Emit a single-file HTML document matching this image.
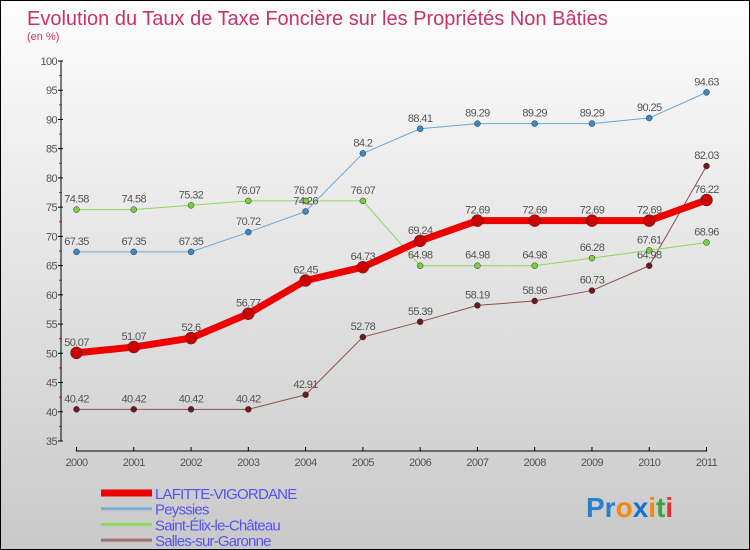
<!DOCTYPE html>
<html><head><meta charset="utf-8"><style>
body{margin:0;}
#c{width:748px;height:548px;border:1px solid #000;background:linear-gradient(#fdfdfd,#c9c9c9);position:relative;overflow:hidden;font-family:"Liberation Sans","DejaVu Sans",sans-serif;}
svg{position:absolute;left:0;top:0}
</style></head><body>
<div id="c">
<svg id="s" width="748" height="548">
<text x="26" y="24" font-size="20" fill="#c8336a">Evolution du Taux de Taxe Foncière sur les Propriétés Non Bâties</text>
<text x="26" y="39" font-size="11" fill="#c8336a">(en %)</text>
<text x="585" y="516" font-size="28" font-weight="bold"><tspan fill="#2a7fd0">Pr</tspan><tspan fill="#f08a10">o</tspan><tspan fill="#1a6fc8">x</tspan><tspan fill="#f08a10">i</tspan><tspan fill="#3aa63a">t</tspan><tspan fill="#e03030">i</tspan></text>
</svg>
</div>
<script>
const years=["2000","2001","2002","2003","2004","2005","2006","2007","2008","2009","2010","2011"];
const yTicks=[35,40,45,50,55,60,65,70,75,80,85,90,95,100];
const seriesNames=["LAFITTE-VIGORDANE","Peyssies","Saint-Élix-le-Château","Salles-sur-Garonne"];
const lafitte=[50.07,51.07,52.6,56.77,62.45,64.73,69.24,72.69,72.69,72.69,72.69,76.22];
const peyssies=[67.35,67.35,67.35,70.72,74.26,84.2,88.41,89.29,89.29,89.29,90.25,94.63];
const saintElix=[74.58,74.58,75.32,76.07,76.07,76.07,64.98,64.98,64.98,66.28,67.61,68.96];
const salles=[40.42,40.42,40.42,40.42,42.91,52.78,55.39,58.19,58.96,60.73,64.98,82.03];
const svg=document.getElementById('s');const NS='http://www.w3.org/2000/svg';
const xS=i=>75.5+i*(630/11);const yS=v=>440-(v-35)*(380/65);
function mk(t,a,p){const e=document.createElementNS(NS,t);for(const k in a)e.setAttribute(k,a[k]);(p||svg).appendChild(e);return e;}
const fmt=v=>String(v);
let ax=mk('line',{x1:60,y1:60,x2:60,y2:440,stroke:'#000'});

ax=mk('line',{x1:75,y1:450,x2:706,y2:450,stroke:'#000'});

yTicks.forEach(v=>{const y=yS(v);mk('line',{x1:57,y1:y,x2:62,y2:y,stroke:'#000'});
if(v<100)mk('line',{x1:58,y1:yS(v+2.5),x2:61,y2:yS(v+2.5),stroke:'#e00'});
const t=mk('text',{x:56,y:y+4,'font-size':11,fill:'#555','text-anchor':'end','letter-spacing':'-0.6'});t.textContent=v;
});
years.forEach((yr,i)=>{const x=xS(i);mk('line',{x1:x,y1:446,x2:x,y2:450,stroke:'#000'});
const t=mk('text',{x:x,y:465,'font-size':11,fill:'#555','text-anchor':'middle','letter-spacing':'-0.6'});t.textContent=yr;
});
function series(data,color,w,r,dot,name){const g=mk('g',{});

mk('polyline',{points:data.map((v,i)=>xS(i)+','+yS(v)).join(' '),fill:'none',stroke:color,'stroke-width':w},g);
data.forEach((v,i)=>{const c=mk('circle',{cx:xS(i),cy:yS(v),r:r,fill:dot,stroke:'#333','stroke-width':0.5},g);

const t=mk('text',{x:xS(i),y:yS(v)-7,'font-size':11,fill:'#555','text-anchor':'middle','letter-spacing':'-0.6'},g);t.textContent=fmt(v);
});}
series(salles,'#8b5050',1,3,'#6b1a1a','series-salles');
series(saintElix,'#8fd85a',1,3,'#7acc40','series-saint-elix');
series(peyssies,'#6aa8d8',1,3,'#3a88c8','series-peyssies');
series(lafitte,'#ee0000',7,6,'#cc0000','series-lafitte');
const lc=['#ee0000','#7aaed8','#8fd85a','#a07070'];const lw=[7,3,3,3];
seriesNames.forEach((n,i)=>{const y=492+i*15.7;const g=mk('g',{});

mk('line',{x1:100,y1:y,x2:151,y2:y,stroke:lc[i],'stroke-width':lw[i]},g);
const t=mk('text',{x:154,y:y+6,'font-size':15,fill:'#5555ee','letter-spacing':'-0.8'},g);t.textContent=n;});
</script>
</body></html>
